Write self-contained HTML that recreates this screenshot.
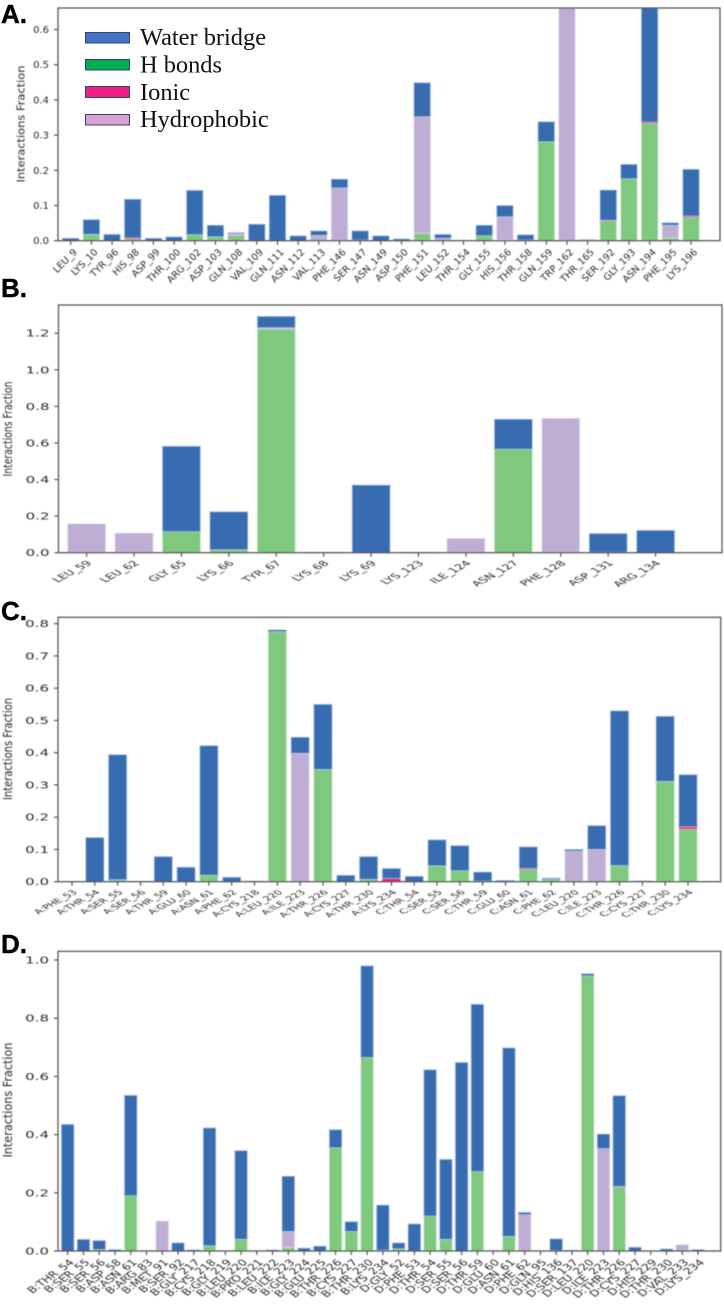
<!DOCTYPE html>
<html lang="en">
<head>
<meta charset="utf-8">
<title>Interaction fractions by residue</title>
<style>
html,body{margin:0;padding:0;background:#fff;width:724px;height:1304px;overflow:hidden}
svg{display:block}
.panel-letter{font-family:"Liberation Sans",sans-serif;font-weight:700;font-size:26px;fill:#000;stroke:#000;stroke-width:.4}
.legend-text{font-family:"Liberation Serif",serif;font-size:24.4px;fill:#111}
.tick-text{font-family:"DejaVu Sans",sans-serif;fill:#2a2a2a}
</style>
</head>
<body>
<svg id="figure" xmlns="http://www.w3.org/2000/svg" width="724" height="1304" viewBox="0 0 724 1304">
  <defs>
    <filter id="soft" x="-5%" y="-5%" width="110%" height="110%"><feGaussianBlur stdDeviation="0.45"/></filter>
  </defs>
  <rect x="0" y="0" width="724" height="1304" fill="#fff"/>
  <g id="charts" filter="url(#soft)"></g>
  <g>
    <text class="panel-letter" x="1" y="23">A.</text>
    <text class="panel-letter" x="1" y="297">B.</text>
    <text class="panel-letter" x="1" y="620">C.</text>
    <text class="panel-letter" x="1" y="953">D.</text>
  </g>
  <g>
    <g>
      <rect x="85.5" y="32.5" width="44" height="10.5" fill="#4472c4" stroke="#2b4470" stroke-width="1"/>
      <text class="legend-text" x="140" y="45">Water bridge</text>
    </g>
    <g>
      <rect x="85.5" y="59.5" width="44" height="10.5" fill="#00b050" stroke="#2b4470" stroke-width="1"/>
      <text class="legend-text" x="140" y="72.5">H bonds</text>
    </g>
    <g>
      <rect x="85.5" y="86.5" width="44" height="11" fill="#ed1e85" stroke="#2b4470" stroke-width="1"/>
      <text class="legend-text" x="140" y="100">Ionic</text>
    </g>
    <g>
      <rect x="85.5" y="114.5" width="44" height="10.5" fill="#d8a0d4" stroke="#2b4470" stroke-width="1"/>
      <text class="legend-text" x="140" y="127">Hydrophobic</text>
    </g>
  </g>
</svg>
<script>
// Panel A data
var categoriesA = ["LEU_9","LYS_10","TYR_96","HIS_98","ASP_99","THR_100","ARG_102","ASP_103","GLN_108","VAL_109","GLN_111","ASN_112","VAL_113","PHE_146","SER_147","ASN_149","ASP_150","PHE_151","LEU_152","THR_154","GLY_155","HIS_156","THR_158","GLN_159","TRP_162","THR_165","SER_192","GLY_193","ASN_194","PHE_195","LYS_196"];
var hBondsA =     [0,.018,0,.005,0,0,.017,.011,.014,0,0,0,0,0,.002,0,0,.021,0,0,.014,.002,.002,.281,0,0,.056,.176,.333,.008,.067];
var ionicA =      [0,0,0,.003,0,0,0,0,.002,0,0,0,0,0,0,0,0,0,0,0,0,0,0,0,0,0,.002,0,.004,0,.003];
var hydrophobicA =[0,0,0,0,0,0,0,0,.004,0,0,0,.015,.15,0,0,0,.331,.007,0,0,.066,0,0,.72,0,0,0,0,.036,0];
var waterBridgeA =[.007,.042,.018,.11,.007,.011,.126,.033,.003,.047,.129,.014,.013,.025,.026,.014,.005,.097,.011,0,.03,.032,.015,.057,0,.003,.086,.041,.34,.007,.133];
var yTicksA = ["0.0","0.1","0.2","0.3","0.4","0.5","0.6"];

// Panel B data
var categoriesB = ["LEU_59","LEU_62","GLY_65","LYS_66","TYR_67","LYS_68","LYS_69","LYS_123","ILE_124","ASN_127","PHE_128","ASP_131","ARG_134"];
var hBondsB =     [0,0,.115,.016,1.222,0,0,0,0,.566,0,0,0];
var ionicB =      [0,0,0,0,0,0,0,0,0,0,0,.003,0];
var hydrophobicB =[.158,.107,0,0,.008,0,0,0,.078,0,.735,0,0];
var waterBridgeB =[0,0,.467,.208,.062,.002,.37,.002,0,.164,0,.102,.122];
var yTicksB = ["0.0","0.2","0.4","0.6","0.8","1.0","1.2"];

// Panel C data
var categoriesC = ["A:PHE_53","A:THR_54","A:SER_55","A:SER_56","A:THR_59","A:GLU_60","A:ASN_61","A:PHE_62","A:CYS_218","A:LEU_220","A:ILE_223","A:THR_226","A:CYS_227","A:THR_230","A:LYS_234","C:THR_54","C:SER_55","C:SER_56","C:THR_59","C:GLU_60","C:ASN_61","C:PHE_62","C:LEU_220","C:ILE_223","C:THR_226","C:CYS_227","C:THR_230","C:LYS_234"];
var hBondsC =     [0,0,.006,0,0,0,.02,0,0,.775,0,.348,0,.007,0,0,.049,.034,.002,0,.038,.007,0,0,.05,0,.311,.163];
var ionicC =      [0,0,0,0,0,0,0,0,0,0,0,0,0,0,.01,0,0,0,0,0,.003,0,0,0,0,0,0,.007];
var hydrophobicC =[0,0,0,0,0,0,0,0,0,0,.398,0,0,0,0,0,0,0,0,0,0,0,.095,.1,0,0,0,0];
var waterBridgeC =[0,.137,.388,0,.078,.045,.402,.014,.002,.006,.05,.202,.02,.071,.031,.017,.081,.078,.028,.004,.067,.004,.005,.074,.48,.003,.202,.162];
var yTicksC = ["0.0","0.1","0.2","0.3","0.4","0.5","0.6","0.7","0.8"];

// Panel D data
var categoriesD = ["B:THR_54","B:SER_55","B:SER_56","B:ASP_58","B:ASN_61","B:ARG_83","B:MET_91","B:SER_92","B:GLY_217","B:CYS_218","B:GLY_219","B:LEU_220","B:PRO_221","B:LEU_222","B:ILE_223","B:GLY_224","B:GLU_225","B:THR_226","B:CYS_227","B:THR_230","B:LYS_234","D:GLY_52","D:PHE_53","D:THR_54","D:SER_55","D:SER_56","D:THR_59","D:GLU_60","D:ASN_61","D:PHE_62","D:GLN_95","D:HIS_136","D:SER_137","D:LEU_220","D:ILE_223","D:THR_226","D:CYS_227","D:HIS_229","D:THR_230","D:VAL_233","D:LYS_234"];
var hBondsD =     [0,0,.005,0,.19,0,0,0,0,.018,0,.04,0,0,.012,0,0,.355,.067,.665,0,.008,0,.12,.04,0,.273,0,.05,0,0,.002,0,.945,0,.22,0,0,0,0,0];
var ionicD =      [0,0,0,0,0,0,0,0,0,0,0,0,0,0,0,0,0,0,0,0,.003,0,0,0,0,0,0,0,0,0,0,0,0,0,0,.002,0,0,0,0,0];
var hydrophobicD =[0,0,0,0,0,0,.103,0,0,0,0,0,0,0,.055,0,0,0,0,0,0,0,0,0,0,0,0,0,0,.125,0,0,0,0,.352,0,0,0,0,.022,0];
var waterBridgeD =[.435,.04,.031,.005,.345,.001,0,.028,.004,.405,0,.305,0,.004,.19,.01,.017,.062,.034,.315,.155,.02,.093,.503,.275,.648,.575,.001,.648,.008,0,.04,.003,.008,.05,.312,.013,0,.007,0,.005];
var yTicksD = ["0.0","0.2","0.4","0.6","0.8","1.0"];

var SVG_NS = "http://www.w3.org/2000/svg";
var COLORS = { hbonds: "#7fc97f", ionic: "#f0027f", hydrophobic: "#beaed4", water: "#386cb0" };
var EDGES = { hbonds: "#cfeacf", ionic: "#f0027f", hydrophobic: "#e4dcf0", water: "#a9c4e6" };

function slug(s) {
  return String(s).toLowerCase().replace(/[^a-z0-9]+/g, "-");
}

function drawPanel(cfg) {
  var root = document.getElementById("charts");
  var g = document.createElementNS(SVG_NS, "g");
  
  
  root.appendChild(g);

  var n = cfg.categories.length;
  var step = (cfg.lastX - cfg.firstX) / (n - 1);
  function xScale(i) { return cfg.firstX + i * step; }
  function yScale(v) { return cfg.bottom - v * cfg.unit; }
  var barWidth = step * 0.8;

  var clipId = "clip-" + cfg.id;
  var clip = document.createElementNS(SVG_NS, "clipPath");
  clip.setAttribute("id", clipId);
  var clipRect = document.createElementNS(SVG_NS, "rect");
  clipRect.setAttribute("x", cfg.left);
  clipRect.setAttribute("y", cfg.top);
  clipRect.setAttribute("width", cfg.right - cfg.left);
  clipRect.setAttribute("height", cfg.bottom - cfg.top);
  clip.appendChild(clipRect);
  g.appendChild(clip);

  var bars = document.createElementNS(SVG_NS, "g");
  bars.setAttribute("clip-path", "url(#" + clipId + ")");
  
  
  g.appendChild(bars);

  var seriesList = [
    { key: "hbonds", values: cfg.hbonds },
    { key: "ionic", values: cfg.ionic },
    { key: "hydrophobic", values: cfg.hydrophobic },
    { key: "water", values: cfg.water }
  ];

  cfg.categories.forEach(function (cat, i) {
    var base = 0;
    seriesList.forEach(function (s) {
      var v = s.values[i];
      if (v > 0) {
        var y1 = yScale(base + v);
        var y0 = yScale(base);
        var rect = document.createElementNS(SVG_NS, "rect");
        
        
        rect.setAttribute("x", xScale(i) - barWidth / 2);
        rect.setAttribute("y", y1);
        rect.setAttribute("width", barWidth);
        rect.setAttribute("height", y0 - y1);
        rect.setAttribute("fill", COLORS[s.key]);
        if (s.key !== "ionic") {
          rect.setAttribute("stroke", EDGES[s.key]);
          rect.setAttribute("stroke-width", "0.7");
        }
        bars.appendChild(rect);
        base += v;
      }
    });

    var tick = document.createElementNS(SVG_NS, "line");
    
    
    tick.setAttribute("x1", xScale(i));
    tick.setAttribute("x2", xScale(i));
    tick.setAttribute("y1", cfg.bottom);
    tick.setAttribute("y2", cfg.bottom + 4);
    tick.setAttribute("stroke", "#333");
    tick.setAttribute("stroke-width", "1");
    g.appendChild(tick);

    var label = document.createElementNS(SVG_NS, "text");
    
    
    label.setAttribute("class", "tick-text");
    label.setAttribute("font-size", cfg.xFont);
    label.setAttribute("text-anchor", "end");
    label.setAttribute("transform", "translate(" + (xScale(i) + cfg.xLabelDx) + "," + (cfg.bottom + cfg.xLabelDy) + ") scale(" + cfg.xStretch + "," + cfg.xSquash + ") rotate(-45)");
    label.textContent = cat;
    g.appendChild(label);
  });

  cfg.yTicks.forEach(function (t) {
    var v = parseFloat(t);
    var tick = document.createElementNS(SVG_NS, "line");
    
    
    tick.setAttribute("x1", cfg.left - 4);
    tick.setAttribute("x2", cfg.left);
    tick.setAttribute("y1", yScale(v));
    tick.setAttribute("y2", yScale(v));
    tick.setAttribute("stroke", "#333");
    tick.setAttribute("stroke-width", "1");
    g.appendChild(tick);

    var label = document.createElementNS(SVG_NS, "text");
    
    
    label.setAttribute("class", "tick-text");
    label.setAttribute("font-size", "10");
    label.setAttribute("text-anchor", "end");
    label.setAttribute("transform", "translate(" + (cfg.left - 9) + "," + (yScale(v) + 3.5) + ") scale(" + cfg.yStretch + ",0.95)");
    label.textContent = t;
    g.appendChild(label);
  });

  var frame = document.createElementNS(SVG_NS, "rect");
  
  
  frame.setAttribute("x", cfg.left);
  frame.setAttribute("y", cfg.top);
  frame.setAttribute("width", cfg.right - cfg.left);
  frame.setAttribute("height", cfg.bottom - cfg.top);
  frame.setAttribute("fill", "none");
  frame.setAttribute("stroke", "#555");
  frame.setAttribute("stroke-width", "1.3");
  g.appendChild(frame);

  var title = document.createElementNS(SVG_NS, "text");
  
  
  title.setAttribute("class", "tick-text");
  title.setAttribute("font-size", cfg.titleFont);
  title.setAttribute("text-anchor", "middle");
  title.setAttribute("textLength", cfg.titleLength);
  title.setAttribute("lengthAdjust", "spacingAndGlyphs");
  title.setAttribute("transform", "translate(" + cfg.titleX + "," + cfg.titleY + ") rotate(-90)");
  title.textContent = "Interactions Fraction";
  g.appendChild(title);
}

drawPanel({ id: "a", categories: categoriesA, hbonds: hBondsA, ionic: ionicA, hydrophobic: hydrophobicA, water: waterBridgeA, yTicks: yTicksA,
  left: 58, right: 720, top: 8, bottom: 240.7, unit: 352, firstX: 70.7, lastX: 691,
  xFont: 9.6, xLabelDx: 7, xLabelDy: 12, xStretch: 1, xSquash: 1, yStretch: 1, titleX: 24.5, titleY: 124, titleLength: 117, titleFont: 10.5 });
drawPanel({ id: "b", categories: categoriesB, hbonds: hBondsB, ionic: ionicB, hydrophobic: hydrophobicB, water: waterBridgeB, yTicks: yTicksB,
  left: 58.5, right: 722, top: 305, bottom: 552.7, unit: 182.9, firstX: 86.6, lastX: 655.6,
  xFont: 8.6, xLabelDx: 6, xLabelDy: 11, xStretch: 1.55, xSquash: 0.85, yStretch: 1.5, titleX: 12, titleY: 429, titleLength: 95, titleFont: 12 });
drawPanel({ id: "c", categories: categoriesC, hbonds: hBondsC, ionic: ionicC, hydrophobic: hydrophobicC, water: waterBridgeC, yTicks: yTicksC,
  left: 58, right: 720.7, top: 617.3, bottom: 881.7, unit: 322.5, firstX: 72, lastX: 688,
  xFont: 9, xLabelDx: 6, xLabelDy: 11, xStretch: 1.3, xSquash: 0.72, yStretch: 1.5, titleX: 12, titleY: 749, titleLength: 102, titleFont: 12 });
drawPanel({ id: "d", categories: categoriesD, hbonds: hBondsD, ionic: ionicD, hydrophobic: hydrophobicD, water: waterBridgeD, yTicks: yTicksD,
  left: 58, right: 720.7, top: 951.3, bottom: 1251, unit: 291, firstX: 67.7, lastX: 698,
  xFont: 9.5, xLabelDx: 7, xLabelDy: 12, xStretch: 1.3, xSquash: 0.95, yStretch: 1.5, titleX: 12, titleY: 1100, titleLength: 115, titleFont: 12 });
</script>
</body>
</html>
